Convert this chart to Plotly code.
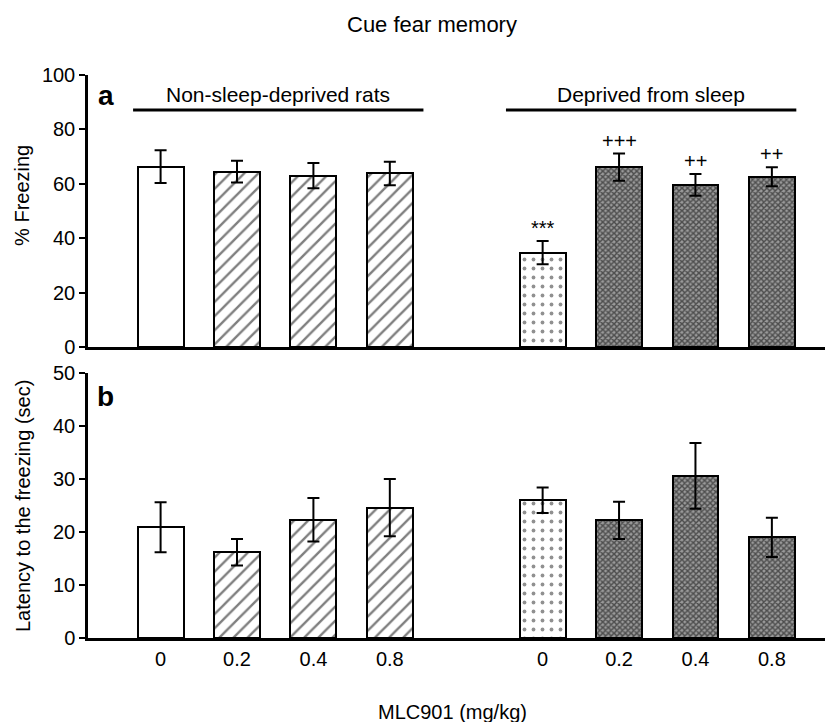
import plotly.graph_objects as go

# ---------------- data ----------------
doses = ["0", "0.2", "0.4", "0.8"]
groups = ["Non-sleep-deprived rats", "Deprived from sleep"]

freezing_nsd = [66.3, 64.5, 63.0, 63.8]
freezing_nsd_err = [6.0, 4.0, 4.6, 4.3]
freezing_sd = [34.7, 66.1, 59.6, 62.6]
freezing_sd_err = [4.3, 5.0, 4.0, 3.5]

latency_nsd = [20.9, 16.2, 22.3, 24.6]
latency_nsd_err = [4.7, 2.5, 4.1, 5.4]
latency_sd = [26.0, 22.2, 30.6, 19.0]
latency_sd_err = [2.4, 3.5, 6.2, 3.7]

sig_sd = ["***", "+++", "++", "++"]

# ---------------- layout helpers ----------------
n = len(doses)
x_nsd = list(range(n))
x_sd = [n + 1 + i for i in range(n)]

FONT = "Liberation Sans, Arial, sans-serif"
EDGE = dict(color="black", width=2)
ERR = dict(type="data", color="black", thickness=2, width=6)

STYLE_WHITE = dict(color="white", line=EDGE)
STYLE_HATCH = dict(color="white", line=EDGE,
                   pattern=dict(shape="/", fgcolor="black", bgcolor="white", size=10, solidity=0.24))
STYLE_DOT = dict(color="white", line=EDGE,
                 pattern=dict(shape=".", fgcolor="#222222", bgcolor="white", size=9, solidity=0.14))
STYLE_DARK = dict(color="#4a4a4a", line=EDGE,
                  pattern=dict(shape="x", fgcolor="#000000", bgcolor="#9a9a9a", size=4, solidity=0.6))

fig = go.Figure()


def add_bars(xs, ys, errs, style, xaxis, yaxis):
    fig.add_trace(go.Bar(x=xs, y=ys, width=0.6, marker=style,
                         error_y=dict(array=errs, **ERR),
                         xaxis=xaxis, yaxis=yaxis, showlegend=False, hoverinfo="skip"))


for (vals_n, err_n, vals_s, err_s, xa, ya) in [
    (freezing_nsd, freezing_nsd_err, freezing_sd, freezing_sd_err, "x2", "y2"),
    (latency_nsd, latency_nsd_err, latency_sd, latency_sd_err, "x", "y"),
]:
    add_bars(x_nsd[:1], vals_n[:1], err_n[:1], STYLE_WHITE, xa, ya)
    add_bars(x_nsd[1:], vals_n[1:], err_n[1:], STYLE_HATCH, xa, ya)
    add_bars(x_sd[:1], vals_s[:1], err_s[:1], STYLE_DOT, xa, ya)
    add_bars(x_sd[1:], vals_s[1:], err_s[1:], STYLE_DARK, xa, ya)

XR = [-0.95, 8.8]
axis_common = dict(showline=True, linecolor="black", linewidth=2.5, showgrid=False,
                   zeroline=False, mirror=False)
yaxis_common = dict(ticks="outside", ticklen=6, tickwidth=2, tickcolor="black",
                    tickfont=dict(size=20), **axis_common)

# page body has an 8px margin: figure is 825x714 so it ends at the window edge
fig.update_layout(
    width=825, height=714,
    margin=dict(l=80, r=0, t=67, b=84),
    plot_bgcolor="white", paper_bgcolor="white",
    font=dict(family=FONT, color="black", size=20),
    bargap=0,
    xaxis=dict(domain=[0, 1], range=XR, anchor="y", tickmode="array",
               tickvals=x_nsd + x_sd, ticktext=doses + doses, ticks="",
               ticklabelstandoff=1, tickfont=dict(size=20), **axis_common),
    yaxis=dict(domain=[0, 0.4707], range=[0, 50], anchor="x",
               tickvals=[0, 10, 20, 30, 40, 50], **yaxis_common),
    xaxis2=dict(domain=[0, 1], range=XR, anchor="y2", showticklabels=False, ticks="",
                matches="x", **axis_common),
    yaxis2=dict(domain=[0.5169, 1], range=[0, 100], anchor="x2",
                tickvals=[0, 20, 40, 60, 80, 100], **yaxis_common),
)

annotations = []
shapes = []

# group lines and labels (top panel)
group_x = [x_nsd, x_sd]
group_shift = [0.0, -0.12]
for g, xs, sh in zip(groups, group_x, group_shift):
    x0 = xs[0] - 0.36 + sh
    x1 = xs[-1] + 0.44 + sh
    shapes.append(dict(type="line", xref="x2", yref="y2", x0=x0, x1=x1, y0=87.1, y1=87.1,
                       line=dict(color="black", width=3)))
    annotations.append(dict(xref="x2", yref="y2", x=(x0 + x1) / 2, y=87.1, text=g,
                            showarrow=False, yanchor="bottom", yshift=2,
                            font=dict(size=21, family=FONT)))

# significance marks
for xv, v, e, s in zip(x_sd, freezing_sd, freezing_sd_err, sig_sd):
    annotations.append(dict(xref="x2", yref="y2", x=xv, y=v + e, text=s, showarrow=False,
                            yanchor="bottom", yshift=0, font=dict(size=20, family=FONT)))

# panel letters
annotations.append(dict(xref="x2 domain", yref="y2 domain", x=0.011, y=0.925, text="<b>a</b>",
                        showarrow=False, xanchor="left", yanchor="middle",
                        font=dict(size=28, family=FONT)))
annotations.append(dict(xref="x domain", yref="y domain", x=0.009, y=0.91, text="<b>b</b>",
                        showarrow=False, xanchor="left", yanchor="middle",
                        font=dict(size=28, family=FONT)))

# axis titles and figure title (positions relative to the plot area)
annotations.append(dict(xref="paper", yref="paper", x=-0.0886, y=0.787,
                        text="% Freezing", textangle=-90, showarrow=False,
                        xanchor="center", yanchor="middle", font=dict(size=20, family=FONT)))
annotations.append(dict(xref="paper", yref="paper", x=-0.0872, y=0.2345,
                        text="Latency to the freezing (sec)", textangle=-90, showarrow=False,
                        xanchor="center", yanchor="middle", font=dict(size=20, family=FONT)))
annotations.append(dict(xref="paper", yref="paper", x=0.4886, y=-0.131,
                        text="MLC901 (mg/kg)", showarrow=False,
                        xanchor="center", yanchor="middle", font=dict(size=20, family=FONT)))
annotations.append(dict(xref="paper", yref="paper", x=0.4617, y=1.089,
                        text="Cue fear memory", showarrow=False,
                        xanchor="center", yanchor="middle", font=dict(size=22, family=FONT)))

fig.update_layout(annotations=annotations, shapes=shapes)

fig.write_html("out.html")
